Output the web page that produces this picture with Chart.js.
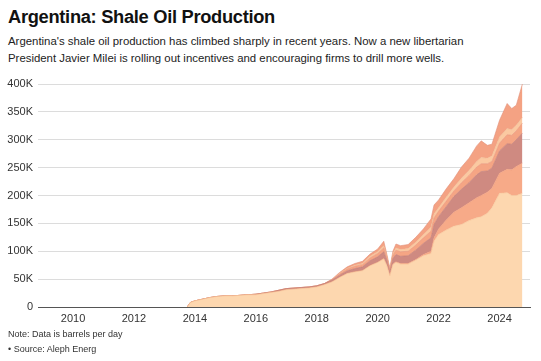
<!DOCTYPE html>
<html>
<head>
<meta charset="utf-8">
<script src="https://cdn.jsdelivr.net/npm/chart.js@4"></script>
<style>
  body { margin: 0; width: 541px; height: 361px; background: #fff; font-family: "Liberation Sans", Arial, sans-serif; overflow: hidden; position: relative; }
  #title { position: absolute; left: 8px; top: 6px; font-size: 18.3px; font-weight: bold; color: #111; letter-spacing: -0.3px; }
  #sub { position: absolute; left: 8px; top: 33px; font-size: 11.4px; line-height: 17px; color: #222; width: 530px; }
  #wrap { position: absolute; left: 0; top: 60px; width: 541px; height: 270px; }
  #note { position: absolute; left: 8px; top: 327px; font-size: 9px; line-height: 15px; color: #333; }
</style>
</head>
<body>
<div id="title">Argentina: Shale Oil Production</div>
<div id="sub">Argentina's shale oil production has climbed sharply in recent years. Now a new libertarian<br>President Javier Milei is rolling out incentives and encouraging firms to drill more wells.</div>
<div id="wrap"><canvas id="myChart"></canvas></div>
<div id="note">Note: Data is barrels per day<br>• Source: Aleph Energ</div>
<script>
// time in decimal years, values in thousand barrels per day
const times = [2013.75, 2013.85, 2014.0, 2014.25, 2014.5, 2014.75, 2015.0, 2015.25, 2015.5, 2015.75,
  2016.0, 2016.25, 2016.5, 2016.75, 2017.0, 2017.25, 2017.5, 2017.75, 2018.0, 2018.25,
  2018.5, 2018.75, 2019.0, 2019.25, 2019.5, 2019.75, 2020.0, 2020.2, 2020.3, 2020.4,
  2020.5, 2020.6, 2020.75, 2021.0, 2021.25, 2021.5, 2021.75, 2021.85, 2022.0, 2022.25, 2022.5,
  2022.75, 2023.0, 2023.25, 2023.4, 2023.6, 2023.75, 2024.0, 2024.25, 2024.4, 2024.55, 2024.75];

const layer1 = [0, 8, 11, 14, 17, 19, 20, 20, 21, 22,
  22, 24, 26, 28, 31, 32, 33, 34, 36, 40,
  45, 53, 60, 63, 65, 74, 80, 86, 74, 56,
  76, 80, 77, 77, 84, 92, 96, 118, 130, 138, 145,
  148, 155, 160, 162, 168, 178, 204, 205, 200, 200, 204];
const layer2 = [0, 0, 0, 0, 0, 0, 0, 0, 0, 0,
  0, 0, 0, 0, 0, 0, 0, 0, 0, 0,
  0, 0, 0, 0, 0, 0, 0, 1, 1, 0,
  1, 1, 1, 1, 1, 2, 4, 6, 10, 18, 25,
  30, 32, 36, 38, 38, 35, 36, 42, 46, 52, 54];
const layer3 = [0, 0, 0, 0, 0, 0, 0, 0, 0, 0,
  1, 1, 1, 2, 2, 2, 2, 2, 2, 2,
  3, 4, 5, 6, 7, 9, 10, 12, 9, 6,
  10, 13, 13, 14, 17, 20, 24, 24, 22, 24, 28,
  33, 36, 41, 43, 38, 36, 40, 46, 46, 48, 54];
const layer4 = [0, 0, 0, 0, 0, 0, 0, 0, 0, 0,
  0, 0, 0, 0, 0, 0, 0, 0, 0, 0,
  1, 2, 3, 4, 4, 5, 6, 7, 5, 4,
  6, 8, 8, 8, 9, 10, 12, 12, 10, 10, 10,
  12, 13, 14, 14, 13, 12, 14, 16, 16, 16, 18];
const layer5 = [0, 0, 0, 0, 0, 0, 0, 0, 0, 0,
  0, 0, 0, 0, 0, 0, 0, 0, 0, 0,
  0, 1, 1, 2, 2, 3, 3, 4, 2, 1,
  3, 4, 4, 5, 5, 6, 7, 7, 6, 7, 7,
  8, 9, 10, 11, 10, 10, 11, 11, 10, 10, 10];
const layer6 = [0, 0, 0, 0, 0, 0, 0, 0, 0, 0,
  0, 0, 0, 0, 0, 0, 0, 0, 0, 0,
  1, 2, 3, 3, 4, 4, 5, 8, 4, 3,
  4, 7, 7, 7, 9, 10, 15, 16, 14, 15, 15,
  20, 22, 28, 30, 23, 21, 30, 45, 38, 36, 60];

const yearTicks = [2010, 2012, 2014, 2016, 2018, 2020, 2022, 2024];
const yTicks = [0, 50, 100, 150, 200, 250, 300, 350, 400];

const layers = [layer1, layer2, layer3, layer4, layer5, layer6];
const fills = ['#fdd7af', '#f7aa88', '#cf8a81', '#f5a584', '#fbc9a1', '#f4a283'];
const edges = ['#f6c296', '#ee9a79', '#c27a72', '#e8967a', '#efb58e', '#e0907a'];

const datasets = layers.map((arr, i) => ({
  data: arr.map((v, j) => ({x: times[j], y: v})),
  backgroundColor: fills[i],
  borderColor: edges[i],
  borderWidth: 0.6,
  pointRadius: 0,
  fill: i == 0 ? 'origin' : '-1',
  tension: 0
}));

const ctx = document.getElementById('myChart').getContext('2d');
const myChart = new Chart(ctx, {
  type: 'line',
  data: { datasets: datasets },
  options: {
    responsive: true,
    maintainAspectRatio: false,
    animation: false,
    layout: { padding: { top: 24, right: 11, bottom: 0, left: 0 } },
    plugins: { legend: { display: false }, tooltip: { enabled: false } },
    scales: {
      x: {
        type: 'linear',
        min: 2008.85,
        max: 2025,
        afterBuildTicks: s => { s.ticks = yearTicks.map(v => ({value: v})); },
        afterFit: s => { s.height = 23; },
        grid: { display: false, drawTicks: false },
        border: { color: '#555', width: 1 },
        ticks: { color: '#333', font: { family: 'Liberation Sans', size: 11 }, padding: 5, maxRotation: 0, callback: v => String(v) }
      },
      y: {
        stacked: true,
        min: 0,
        max: 400,
        afterBuildTicks: s => { s.ticks = yTicks.map(v => ({value: v})); },
        afterFit: s => { s.width = 38; },
        grid: { color: '#dcdcdc', drawTicks: false, lineWidth: 1 },
        border: { display: false },
        ticks: { color: '#333', font: { family: 'Liberation Sans', size: 11 }, padding: 5, callback: v => v == 0 ? '0' : v + 'K' }
      }
    }
  }
});
</script>
</body>
</html>
